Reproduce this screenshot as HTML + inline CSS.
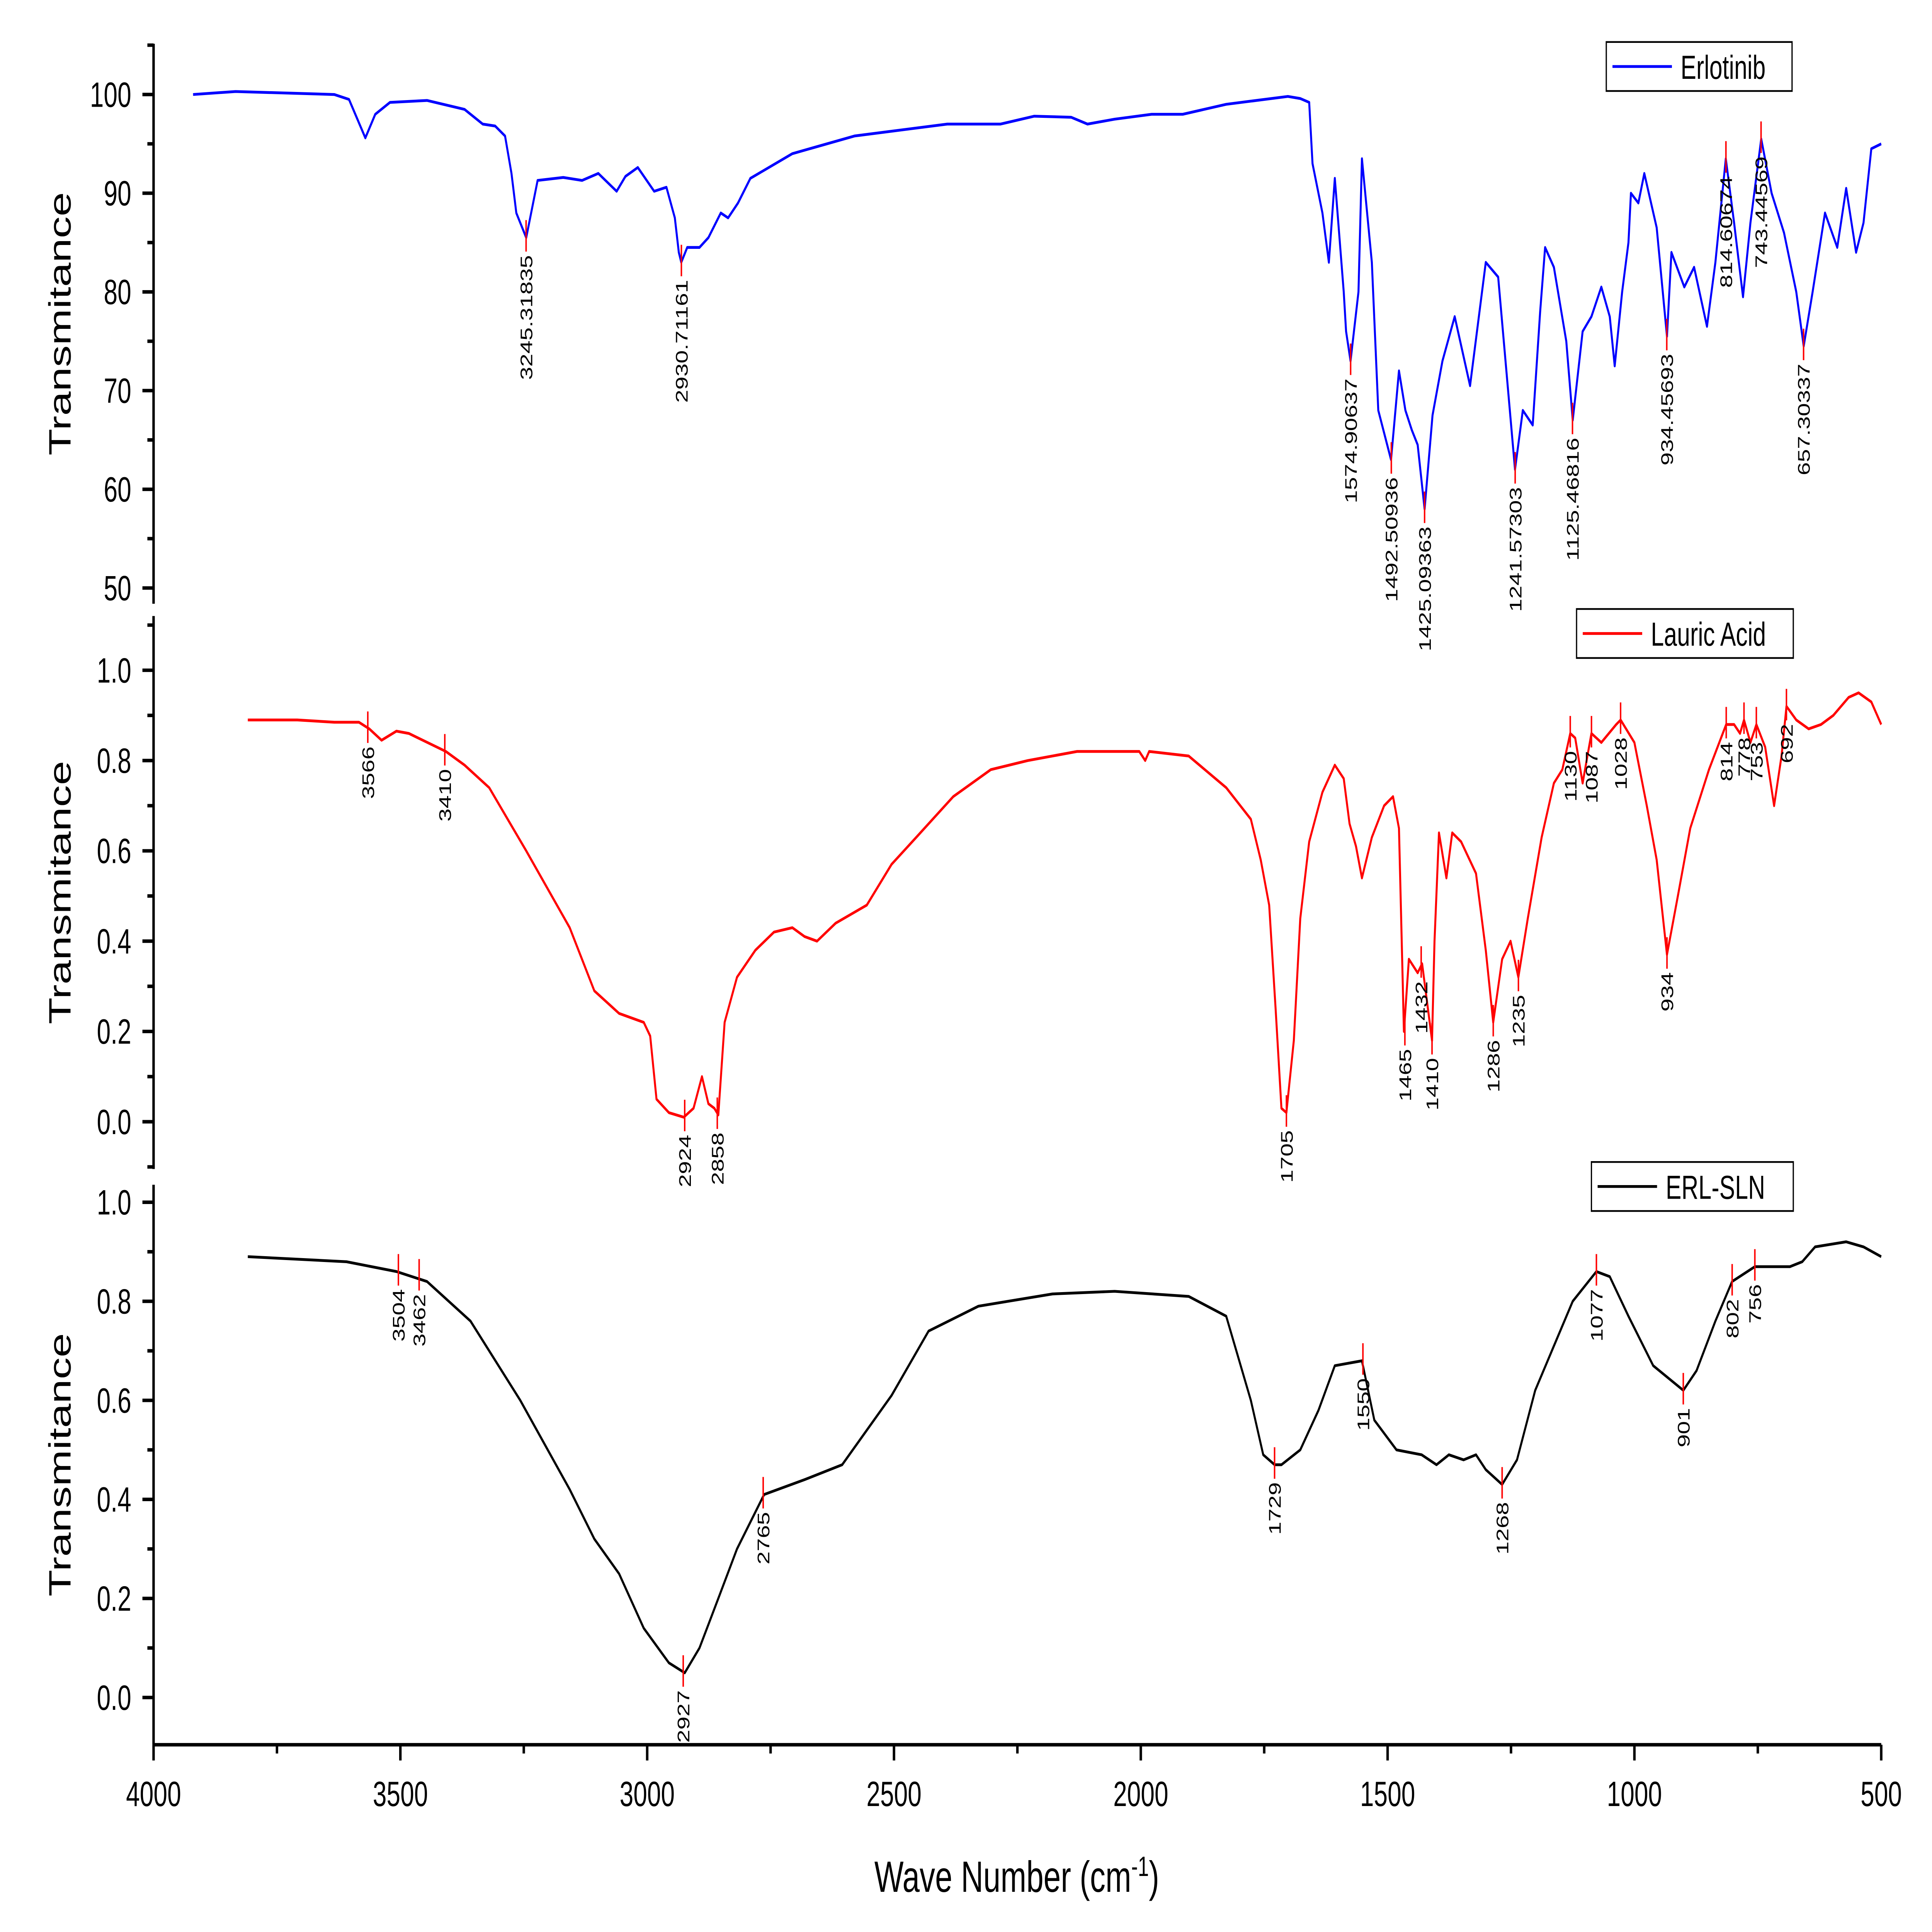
<!DOCTYPE html>
<html><head><meta charset="utf-8"><style>html,body{margin:0;padding:0;background:#fff;width:100%;height:100%;overflow:hidden}svg{display:block;position:fixed;left:0;top:0;width:100vw;height:100vh}</style></head>
<body>
<svg id="chart" xmlns="http://www.w3.org/2000/svg" viewBox="0 0 1560 1104" preserveAspectRatio="none" font-family="'Liberation Sans', Arial, sans-serif">
</svg>
<script>
// ---- data ----
const xTicks = [4000, 3500, 3000, 2500, 2000, 1500, 1000, 500];
const erlWn = [3920,3834,3634,3604,3571,3551,3521,3446,3370,3333,3308,3288,3275,3265,3245,3222,3170,3132,3099,3062,3044,3019,2986,2961,2944,2936,2931,2919,2894,2876,2851,2836,2816,2791,2706,2580,2392,2284,2216,2141,2108,2053,1978,1915,1827,1702,1677,1659,1652,1632,1619,1607,1589,1584,1575,1559,1552,1532,1519,1493,1477,1464,1451,1439,1425,1409,1389,1364,1333,1301,1276,1242,1226,1206,1191,1181,1163,1138,1125,1105,1087,1067,1050,1040,1025,1012,1007,992,980,955,934,925,899,879,853,836,815,798,780,765,743,722,697,672,657,639,614,589,571,551,536,520,500];
const erlT = [100,100.3,100,99.5,95.6,98,99.2,99.4,98.5,97,96.8,95.8,92,88,85.5,91.3,91.6,91.3,92,90.2,91.7,92.6,90.2,90.6,87.5,84,83,84.5,84.5,85.5,88,87.5,89,91.5,94,95.8,97,97,97.8,97.7,97,97.5,98,98,99,99.8,99.6,99.2,93,88,83,91.5,80,76,73,80,93.5,83,68,63,72,68,66,64.5,58,67.5,73,77.5,70.5,83,81.5,62,68,66.5,78,84.5,82.5,75,67,76,77.5,80.5,77.5,72.5,80,85,90,89,92,86.5,75.5,84,80.5,82.5,76.5,83,93.5,87,79.5,87,95.5,90,86,80,74.5,80,88,84.5,90.5,84,87,94.5,95];
const erlLabels = [3245.31835,2930.71161,1574.90637,1492.50936,1425.09363,1241.57303,1125.46816,934.45693,814.60674,743.44569,657.30337];
const erlLabelT = [85.5,83,73,63,58,62,67,75.5,93.5,95.5,74.5];

const laWn = [3809,3709,3634,3584,3563,3538,3508,3483,3408,3370,3320,3245,3157,3107,3057,3007,2994,2981,2956,2926,2906,2889,2876,2864,2856,2843,2818,2781,2743,2706,2681,2656,2618,2555,2505,2455,2380,2304,2229,2129,2003,1991,1983,1903,1827,1777,1757,1740,1727,1715,1705,1690,1677,1659,1632,1607,1589,1577,1564,1552,1532,1507,1489,1477,1467,1457,1439,1430,1410,1405,1396,1381,1369,1351,1321,1301,1286,1268,1251,1235,1216,1188,1163,1146,1130,1120,1105,1087,1067,1037,1028,1000,975,955,934,912,887,849,814,798,786,778,765,753,735,717,702,692,672,647,622,597,566,546,520,500];
const laT = [0.89,0.89,0.885,0.885,0.87,0.845,0.865,0.86,0.82,0.79,0.74,0.6,0.43,0.29,0.24,0.22,0.19,0.05,0.02,0.01,0.03,0.1,0.04,0.03,0.015,0.22,0.32,0.38,0.42,0.43,0.41,0.40,0.44,0.48,0.57,0.63,0.72,0.78,0.80,0.82,0.82,0.80,0.82,0.81,0.74,0.67,0.58,0.48,0.25,0.03,0.02,0.18,0.45,0.62,0.73,0.79,0.76,0.66,0.61,0.54,0.63,0.70,0.72,0.65,0.20,0.36,0.33,0.35,0.18,0.40,0.64,0.54,0.64,0.62,0.55,0.38,0.22,0.36,0.40,0.32,0.45,0.63,0.75,0.78,0.86,0.85,0.75,0.86,0.84,0.88,0.89,0.84,0.70,0.58,0.37,0.50,0.65,0.78,0.88,0.88,0.86,0.89,0.84,0.88,0.83,0.70,0.81,0.92,0.89,0.87,0.88,0.90,0.94,0.95,0.93,0.88];
const laLabels = [3566,3410,2924,2858,1705,1465,1432,1410,1286,1235,1130,1087,1028,934,814,778,753,692];
const laLabelT = [0.87,0.82,0.01,0.015,0.02,0.20,0.35,0.18,0.22,0.32,0.86,0.86,0.89,0.37,0.88,0.89,0.88,0.92];

const slnWn = [3809,3609,3508,3446,3358,3257,3157,3107,3057,3007,2956,2924,2894,2856,2818,2763,2681,2605,2505,2430,2329,2179,2053,1903,1827,1777,1752,1729,1715,1677,1640,1607,1552,1527,1482,1431,1401,1376,1346,1321,1301,1268,1238,1201,1163,1125,1077,1050,1012,962,901,874,836,802,756,685,660,634,571,536,500];
const slnT = [0.89,0.88,0.86,0.84,0.76,0.6,0.42,0.32,0.25,0.14,0.07,0.05,0.1,0.2,0.3,0.41,0.44,0.47,0.61,0.74,0.79,0.815,0.82,0.81,0.77,0.6,0.49,0.47,0.47,0.5,0.58,0.67,0.68,0.56,0.5,0.49,0.47,0.49,0.48,0.49,0.46,0.43,0.48,0.62,0.71,0.80,0.86,0.85,0.77,0.67,0.62,0.66,0.76,0.84,0.87,0.87,0.88,0.91,0.92,0.91,0.89];
const slnLabels = [3504,3462,2927,2765,1729,1550,1268,1077,901,802,756];
const slnLabelT = [0.86,0.85,0.05,0.41,0.47,0.68,0.43,0.86,0.62,0.84,0.87];

// ---- layout ----
const NS = 'http://www.w3.org/2000/svg';
const svg = document.getElementById('chart');
const X0 = 124, X1 = 1519;
const xs = w => X0 + (4000 - w) / 3500 * (X1 - X0);
function mk(tag, attrs, parent) {
  const e = document.createElementNS(NS, tag);
  for (const k in attrs) e.setAttribute(k, attrs[k]);
  (parent || svg).appendChild(e);
  return e;
}
const panels = [
  {name:'erlotinib', top:25, bottom:345, v0:50, y0:336, v1:100, y1:54, ticks:[50,60,70,80,90,100], minor:5, fmt:v=>String(v), color:'#0000ff', wn:erlWn, t:erlT, labels:erlLabels, lt:erlLabelT, legend:'Erlotinib', lx:1297, ly:24, lw:150, dec:true},
  {name:'lauric-acid', top:352, bottom:668, v0:0, y0:641, v1:1, y1:383, ticks:[0,0.2,0.4,0.6,0.8,1.0], minor:0.1, fmt:v=>v.toFixed(1), color:'#ff0000', wn:laWn, t:laT, labels:laLabels, lt:laLabelT, legend:'Lauric Acid', lx:1273, ly:348, lw:175},
  {name:'erl-sln', top:677, bottom:997, v0:0, y0:970, v1:1, y1:687, ticks:[0,0.2,0.4,0.6,0.8,1.0], minor:0.1, fmt:v=>v.toFixed(1), color:'#000000', wn:slnWn, t:slnT, labels:slnLabels, lt:slnLabelT, legend:'ERL-SLN', lx:1285, ly:664, lw:163}
];
panels.forEach(p => {
  const ys = v => p.y0 + (v - p.v0) / (p.v1 - p.v0) * (p.y1 - p.y0);
  const g = mk('g', {});
  
  
  const ax = mk('line', {x1:X0, x2:X0, y1:p.top, y2:p.bottom, stroke:'#000', 'stroke-width':2}, g);
  
  
  p.ticks.forEach(v => {
    const y = ys(v);
    mk('line', {x1:X0-9, x2:X0, y1:y, y2:y, stroke:'#000', 'stroke-width':2}, g);
    const t = mk('text', {x:X0-18, y:y+7, 'text-anchor':'end', 'font-size':20}, g);
    t.textContent = p.fmt(v);
    
    
    const ym = ys(v + p.minor);
    if (ym > p.top) mk('line', {x1:X0-5, x2:X0, y1:ym, y2:ym, stroke:'#000', 'stroke-width':2}, g);
  });
  const ymb = ys(p.ticks[0] - p.minor);
  if (ymb < p.bottom) mk('line', {x1:X0-5, x2:X0, y1:ymb, y2:ymb, stroke:'#000', 'stroke-width':2}, g);
  const cy = (p.top + p.bottom) / 2;
  const yt = mk('text', {x:0, y:0, transform:`translate(57,${cy}) rotate(-90)`, 'text-anchor':'middle', 'font-size':25}, g);
  yt.textContent = 'Transmitance';
  
  
  let d = '';
  p.wn.forEach((w, i) => { d += (i ? 'L' : 'M') + xs(w).toFixed(1) + ',' + ys(p.t[i]).toFixed(1); });
  const line = mk('path', {d, fill:'none', stroke:p.color, 'stroke-width':1.6, 'stroke-linejoin':'round'}, g);
  
  
  p.labels.forEach((w, i) => {
    const x = xs(w), y = ys(p.lt[i]);
    mk('line', {x1:x, x2:x, y1:y-10, y2:y+8, stroke:'#ff0000', 'stroke-width':1.2}, g);
    const lt = mk('text', {x:0, y:0, transform:`translate(${x+5},${y+10}) rotate(-90)`, 'text-anchor':'end', 'font-size':13.5}, g);
    lt.textContent = p.dec ? w.toFixed(5) : String(w);
    
    
  });
  const lg = mk('g', {}, g);
  
  
  mk('rect', {x:p.lx, y:p.ly, width:p.lw, height:28, fill:'#fff', stroke:'#000', 'stroke-width':1}, lg);
  mk('line', {x1:p.lx+5, x2:p.lx+53, y1:p.ly+14, y2:p.ly+14, stroke:p.color, 'stroke-width':1.6}, lg);
  const ltx = mk('text', {x:p.lx+60, y:p.ly+21, 'font-size':19}, lg);
  ltx.textContent = p.legend;
});
// x axis
const xa = mk('line', {x1:X0, x2:X1, y1:997, y2:997, stroke:'#000', 'stroke-width':2});


xTicks.forEach((w, i) => {
  const x = xs(w);
  mk('line', {x1:x, x2:x, y1:997, y2:1006, stroke:'#000', 'stroke-width':2});
  if (i < xTicks.length - 1) { const xm = xs(w - 250); mk('line', {x1:xm, x2:xm, y1:997, y2:1002, stroke:'#000', 'stroke-width':2}); }
  const t = mk('text', {x:x, y:1032, 'text-anchor':'middle', 'font-size':20});
  t.textContent = String(w);
  
  
});
const xt = mk('text', {x:821, y:1081, 'text-anchor':'middle', 'font-size':25});
xt.innerHTML = 'Wave Number (cm<tspan dy="-9" font-size="16">-1</tspan><tspan dy="9">)</tspan>';


</script>
</body></html>
